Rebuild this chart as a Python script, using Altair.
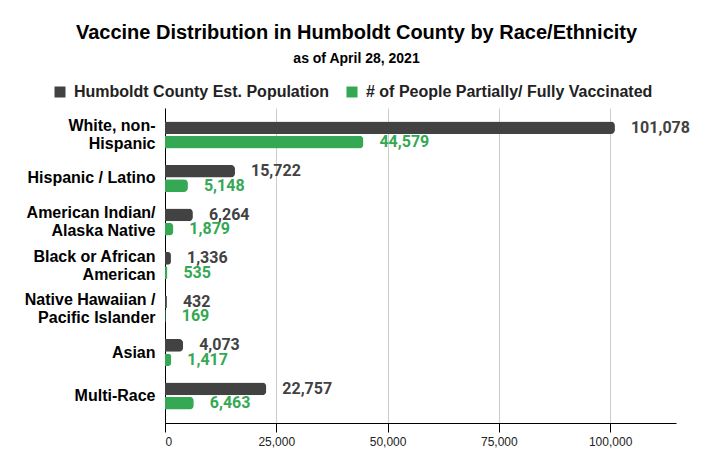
import altair as alt
import pandas as pd

categories = ["White, non-|Hispanic", "Hispanic / Latino", "American Indian/|Alaska Native",
              "Black or African|American", "Native Hawaiian /|Pacific Islander", "Asian", "Multi-Race"]
population = [101078, 15722, 6264, 1336, 432, 4073, 22757]
vaccinated = [44579, 5148, 1879, 535, 169, 1417, 6463]
series = ["Humboldt County Est. Population", "# of People Partially/ Fully Vaccinated"]
colors = ["#424242", "#34a853"]
x_ticks = [0, 25000, 50000, 75000, 100000]

rows = []
for c, p, v in zip(categories, population, vaccinated):
    rows.append({"cat": c, "series": series[0], "value": p})
    rows.append({"cat": c, "series": series[1], "value": v})
df = pd.DataFrame(rows)

FONT = "Roboto"
AFONT = "Liberation Sans"

y_enc = alt.Y("cat:N", sort=categories, title=None,
              scale=alt.Scale(paddingInner=0.38, paddingOuter=0.31),
              axis=alt.Axis(labelExpr="split(datum.label, '|')", labelFontSize=16,
                            labelFontWeight="bold", labelColor="#000000", labelFont=AFONT,
                            ticks=False, domainColor="#000000", labelPadding=10,
                            labelLineHeight=18,
                            labelOffset=alt.condition("indexof(datum.value, '|') >= 0",
                                                      alt.value(-9), alt.value(0))))
yoff = alt.YOffset("series:N", sort=series, scale=alt.Scale(paddingInner=0.12))
x_enc = alt.X("value:Q", title=None,
              scale=alt.Scale(domain=[0, 114800], nice=False),
              axis=alt.Axis(values=x_ticks, format=",d", labelFontSize=12, labelFont=AFONT,
                            labelColor="#222222", gridColor="#cccccc", domainColor="#000000",
                            tickColor="#000000", tickSize=9, labelPadding=4))
color_enc = alt.Color("series:N", sort=series,
                      scale=alt.Scale(domain=series, range=colors),
                      legend=alt.Legend(title=None, orient="none", legendX=-113, legendY=-24,
                                        direction="horizontal", symbolType="square",
                                        symbolSize=121, symbolStrokeWidth=0,
                                        labelFontSize=16, labelFontWeight="bold",
                                        labelFont=AFONT, labelColor="#222222",
                                        labelOffset=6, columnPadding=14, labelLimit=400))

bars = alt.Chart(df).mark_bar(cornerRadiusEnd=4).encode(
    y=y_enc, yOffset=yoff, x=x_enc, color=color_enc)

labels = alt.Chart(df).mark_text(align="left", baseline="middle", dx=16, fontSize=16,
                                 fontWeight="bold", font=FONT).encode(
    y=alt.Y("cat:N", sort=categories), yOffset=yoff, x="value:Q",
    text=alt.Text("value:Q", format=",d"),
    color=alt.Color("series:N", sort=series, scale=alt.Scale(domain=series, range=colors),
                    legend=None))

chart = alt.layer(bars, labels).properties(
    width=511, height=315,
    padding={"left": 157, "top": 100, "right": 30, "bottom": 38},
    autosize=alt.AutoSizeParams(type="none"),
    title=alt.TitleParams(text="Vaccine Distribution in Humboldt County by Race/Ethnicity",
                          subtitle="as of April 28, 2021", font=AFONT, fontSize=20,
                          fontWeight="bold", color="#000000", subtitleFont=AFONT,
                          subtitleFontSize=14, subtitleFontWeight="bold",
                          subtitleColor="#000000", subtitlePadding=9,
                          anchor="middle", dx=-64, offset=18)
).configure_view(stroke=None)

chart.save("out.html", embed_options={"renderer": "svg", "actions": False})
